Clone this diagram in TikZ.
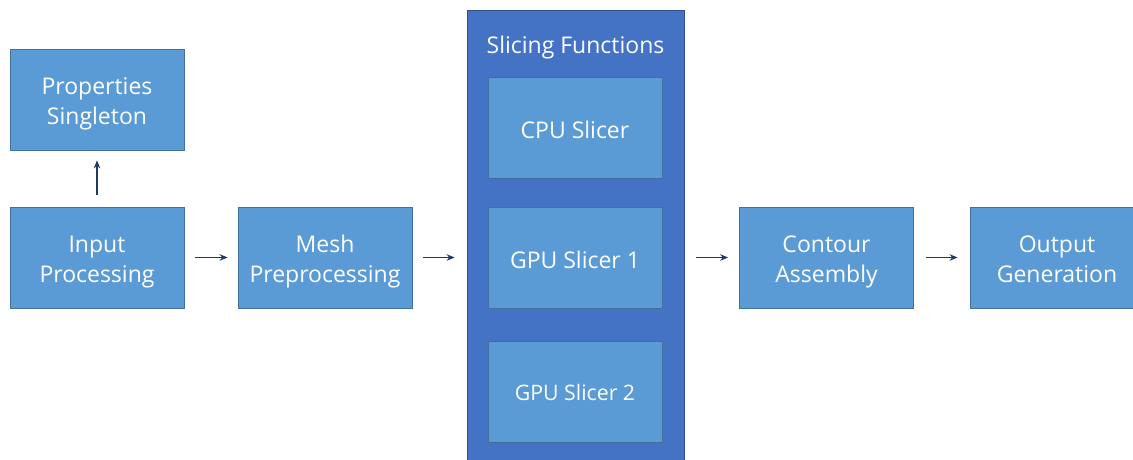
\documentclass[tikz,border=0pt]{standalone}
\usepackage{fontspec}
\setmainfont{Open Sans}
\usetikzlibrary{arrows.meta}
\definecolor{boxfill}{HTML}{5B9BD5}
\definecolor{boxline}{HTML}{41719C}
\definecolor{contfill}{HTML}{4472C4}
\definecolor{contline}{HTML}{2F528F}
\definecolor{arrcol}{HTML}{203864}
\begin{document}
\begin{tikzpicture}[x=1pt,y=-1pt,
  box/.style={draw=boxline, line width=0.8pt, fill=boxfill,
    minimum width=174pt, minimum height=101pt, inner sep=0pt},
  lbl/.style={text=white, inner sep=0pt, align=center,
    font=\fontsize{23}{30}\selectfont},
  two/.style={label={[lbl, yshift=-4.5pt]center:{#1}}},
  one/.style={label={[lbl, yshift=-2pt]center:{#1}}},
  cont/.style={draw=contline, line width=0.8pt, fill=contfill,
    minimum width=217pt, minimum height=452pt, inner sep=0pt},
  arr/.style={draw=arrcol, line width=1.3pt, -{Stealth[length=8pt,width=6.5pt]}}]
\useasboundingbox (0,0) rectangle (1133,460);
\fill[white] (0,0) rectangle (1133,460);
\node[box, two={Properties\\Singleton}] (props) at (97,99.5) {};
\node[box, two={Input\\Processing}] (input) at (97,257.5) {};
\node[box, two={Mesh\\Preprocessing}] (mesh) at (325,257.5) {};
\node[cont] (sf) at (575.5,236) {};
\node[lbl] (sftitle) at (575.5,48) {Slicing Functions};
\node[box, one={CPU Slicer}] (cpu) at (575,127.5) {};
\node[box, one={GPU Slicer 1}] (gpu1) at (575,258) {};
\node[box, label={[lbl, font=\fontsize{21.3}{30}\selectfont, yshift=-1.5pt]center:GPU Slicer 2}] (gpu2) at (575,391.5) {};
\node[box, two={Contour\\Assembly}] (contour) at (826.5,257.5) {};
\node[box, label={[lbl, yshift=-1.5pt]center:{Output\\Generation}}] (output) at (1057,257.5) {};
\draw[arr, shorten <=12pt, shorten >=10pt] (input.north) -- (props.south);
\draw[arr, shorten <=11pt, shorten >=10pt] (input.east) -- (mesh.west);
\draw[arr, shorten <=11pt, shorten >=12pt] (mesh.east) -- (mesh.east -| sf.west);
\draw[arr, shorten <=12pt, shorten >=11pt] (sf.east |- contour.west) -- (contour.west);
\draw[arr, shorten <=12pt, shorten >=12pt] (contour.east) -- (output.west);
\end{tikzpicture}
\end{document}
